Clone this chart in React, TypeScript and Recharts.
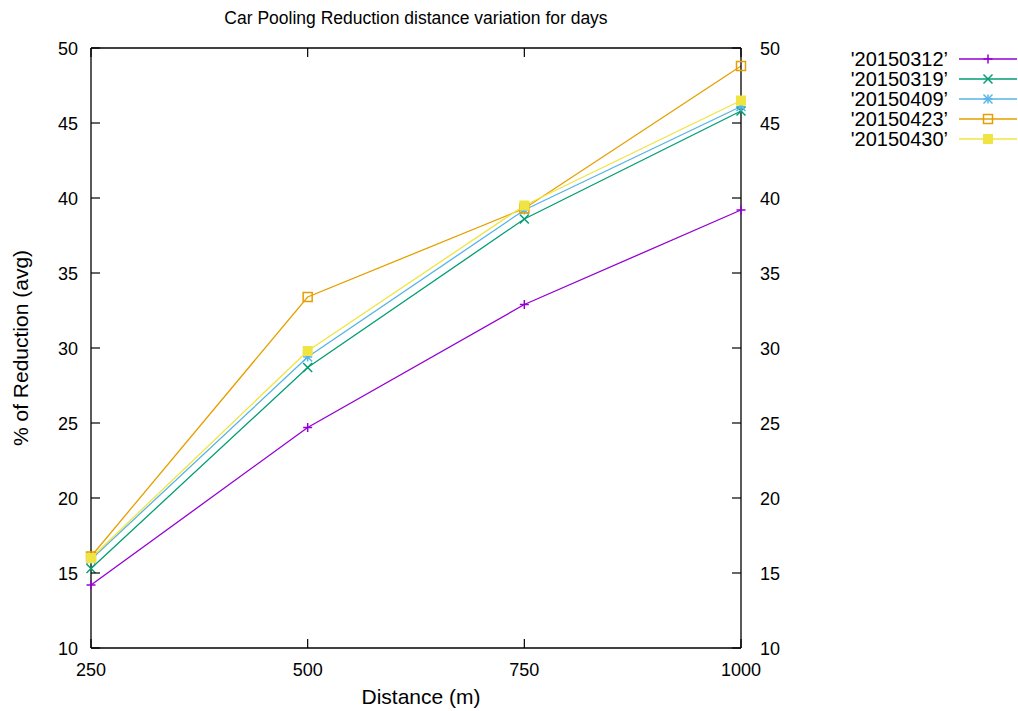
import React from 'react';
import { LineChart, Line, XAxis, YAxis, Legend } from 'recharts';

const distances = [250, 500, 750, 1000];
const s20150312 = [14.2, 24.7, 32.9, 39.2];
const s20150319 = [15.3, 28.7, 38.6, 45.8];
const s20150409 = [15.9, 29.4, 39.2, 46.1];
const s20150423 = [16.1, 33.4, 39.3, 48.8];
const s20150430 = [16.0, 29.8, 39.5, 46.5];
const yTicks = [10, 15, 20, 25, 30, 35, 40, 45, 50];

const FONT = '"Liberation Sans", Arial, sans-serif';
const TICK = 9;
// plot frame size (chart size minus margins and axis widths)
const PLOT_W = 1018 - 31 - 60 - 217 - 60;
const PLOT_H = 711 - 48 - 23 - 40;

const data = distances.map((d, i) => ({
	d,
	a: s20150312[i],
	b: s20150319[i],
	c: s20150409[i],
	e: s20150423[i],
	f: s20150430[i],
}));

const series = [
	{ key: 'a', name: "'20150312’", color: '#9400d3', shape: 'plus' },
	{ key: 'b', name: "'20150319’", color: '#009e73', shape: 'cross' },
	{ key: 'c', name: "'20150409’", color: '#56b4e9', shape: 'star' },
	{ key: 'e', name: "'20150423’", color: '#e69f00', shape: 'square' },
	{ key: 'f', name: "'20150430’", color: '#f0e442', shape: 'filled' },
];

function Marker({ cx, cy, shape, color }: any) {
	const r = 4.5;
	if (shape === 'plus') {
		return (
			<g stroke={color} strokeWidth={1.5}>
				<line x1={cx - r} y1={cy} x2={cx + r} y2={cy} />
				<line x1={cx} y1={cy - r} x2={cx} y2={cy + r} />
			</g>
		);
	}
	if (shape === 'cross') {
		return (
			<g stroke={color} strokeWidth={1.5}>
				<line x1={cx - r} y1={cy - r} x2={cx + r} y2={cy + r} />
				<line x1={cx - r} y1={cy + r} x2={cx + r} y2={cy - r} />
			</g>
		);
	}
	if (shape === 'star') {
		return (
			<g stroke={color} strokeWidth={1.5}>
				<line x1={cx - r} y1={cy} x2={cx + r} y2={cy} />
				<line x1={cx} y1={cy - r} x2={cx} y2={cy + r} />
				<line x1={cx - r} y1={cy - r} x2={cx + r} y2={cy + r} />
				<line x1={cx - r} y1={cy + r} x2={cx + r} y2={cy - r} />
			</g>
		);
	}
	if (shape === 'square') {
		return <rect x={cx - r} y={cy - r} width={2 * r} height={2 * r} fill="none" stroke={color} strokeWidth={1.5} />;
	}
	return <rect x={cx - 5} y={cy - 5} width={10} height={10} fill={color} />;
}

const LeftTick = ({ x, y, payload }: any) => (
	<g>
		<line x1={x} y1={y} x2={x + TICK} y2={y} stroke="#000" strokeWidth={1.2} />
		{payload.value === 50 && <line x1={x} y1={y} x2={x + PLOT_W} y2={y} stroke="#000" strokeWidth={1.3} />}
		<text x={x - 13} y={y + 6.5} textAnchor="end" fontSize={18} fontFamily={FONT} fill="#000">
			{payload.value}
		</text>
	</g>
);

const RightTick = ({ x, y, payload }: any) => (
	<g>
		<line x1={x} y1={y} x2={x - TICK} y2={y} stroke="#000" strokeWidth={1.2} />
		<text x={x + 19} y={y + 6.5} textAnchor="start" fontSize={18} fontFamily={FONT} fill="#000">
			{payload.value}
		</text>
	</g>
);

// bottom tick plus its mirror on the top edge of the frame
const BottomTick = ({ x, y, payload }: any) => (
	<g>
		<line x1={x} y1={y} x2={x} y2={y - TICK} stroke="#000" strokeWidth={1.2} />
		<line x1={x} y1={y - PLOT_H} x2={x} y2={y - PLOT_H + TICK} stroke="#000" strokeWidth={1.2} />
		<text x={x} y={y + 28} textAnchor="middle" fontSize={18} fontFamily={FONT} fill="#000">
			{payload.value}
		</text>
	</g>
);

function LegendBox() {
	return (
		<svg width={188} height={110} style={{ display: 'block' }}>
			{series.map((s, i) => {
				const y = 14 + i * 20;
				return (
					<g key={s.key}>
						<text x={118} y={y + 7} textAnchor="end" fontSize={20} fontFamily={FONT} fill="#000">
							{s.name}
						</text>
						<line x1={129} y1={y} x2={187} y2={y} stroke={s.color} strokeWidth={1.3} />
						<Marker cx={158} cy={y} shape={s.shape} color={s.color} />
					</g>
				);
			})}
		</svg>
	);
}

export default function App() {
	return (
		<div style={{ position: 'absolute', left: 0, top: 0, background: '#fff' }}>
			<LineChart
				width={1018}
				height={711}
				data={data}
				margin={{ top: 48, right: 217, left: 31, bottom: 23 }}
			>
				<XAxis
					dataKey="d"
					type="number"
					domain={[250, 1000]}
					ticks={distances}
					height={40}
					tickSize={0}
					tickMargin={0}
					tickLine={false}
					axisLine={{ stroke: '#000', strokeWidth: 1.3 }}
					tick={BottomTick}
					label={{
						content: () => (
							<g>
								<text x={421} y={704} textAnchor="middle" fontSize={21} fontFamily={FONT} fill="#000">
									Distance (m)
								</text>
								<text x={416} y={24} textAnchor="middle" fontSize={17.5} fontFamily={FONT} fill="#000">
									Car Pooling Reduction distance variation for days
								</text>
							</g>
						),
					}}
				/>
				<YAxis
					yAxisId="left"
					type="number"
					domain={[10, 50]}
					ticks={yTicks}
					width={60}
					tickSize={0}
					tickMargin={0}
					tickLine={false}
					axisLine={{ stroke: '#000', strokeWidth: 1.3 }}
					tick={LeftTick}
					label={{
						content: () => (
							<text
								x={20}
								y={348}
								transform="rotate(-90 20 348)"
								textAnchor="middle"
								dominantBaseline="central"
								fontSize={21}
								fontFamily={FONT}
								fill="#000"
							>
								% of Reduction (avg)
							</text>
						),
					}}
				/>
				<YAxis
					yAxisId="right"
					orientation="right"
					type="number"
					domain={[10, 50]}
					ticks={yTicks}
					width={60}
					tickSize={0}
					tickMargin={0}
					tickLine={false}
					axisLine={{ stroke: '#000', strokeWidth: 1.3 }}
					tick={RightTick}
				/>
				<Legend
					layout="vertical"
					align="center"
					verticalAlign="middle"
					wrapperStyle={{ top: 45, left: 830, width: 188, height: 110 }}
					content={() => <LegendBox />}
				/>
				{/* invisible copy so the right axis gets a scale */}
				<Line
					yAxisId="right"
					dataKey="a"
					stroke="none"
					dot={false}
					activeDot={false}
					legendType="none"
					isAnimationActive={false}
				/>
				{series.map((s) => (
					<Line
						key={s.key}
						yAxisId="left"
						dataKey={s.key}
						name={s.name}
						stroke={s.color}
						strokeWidth={1.3}
						isAnimationActive={false}
						dot={(p: any) => <Marker key={`${s.key}-${p.index}`} cx={p.cx} cy={p.cy} shape={s.shape} color={s.color} />}
						activeDot={false}
					/>
				))}
			</LineChart>
		</div>
	);
}
